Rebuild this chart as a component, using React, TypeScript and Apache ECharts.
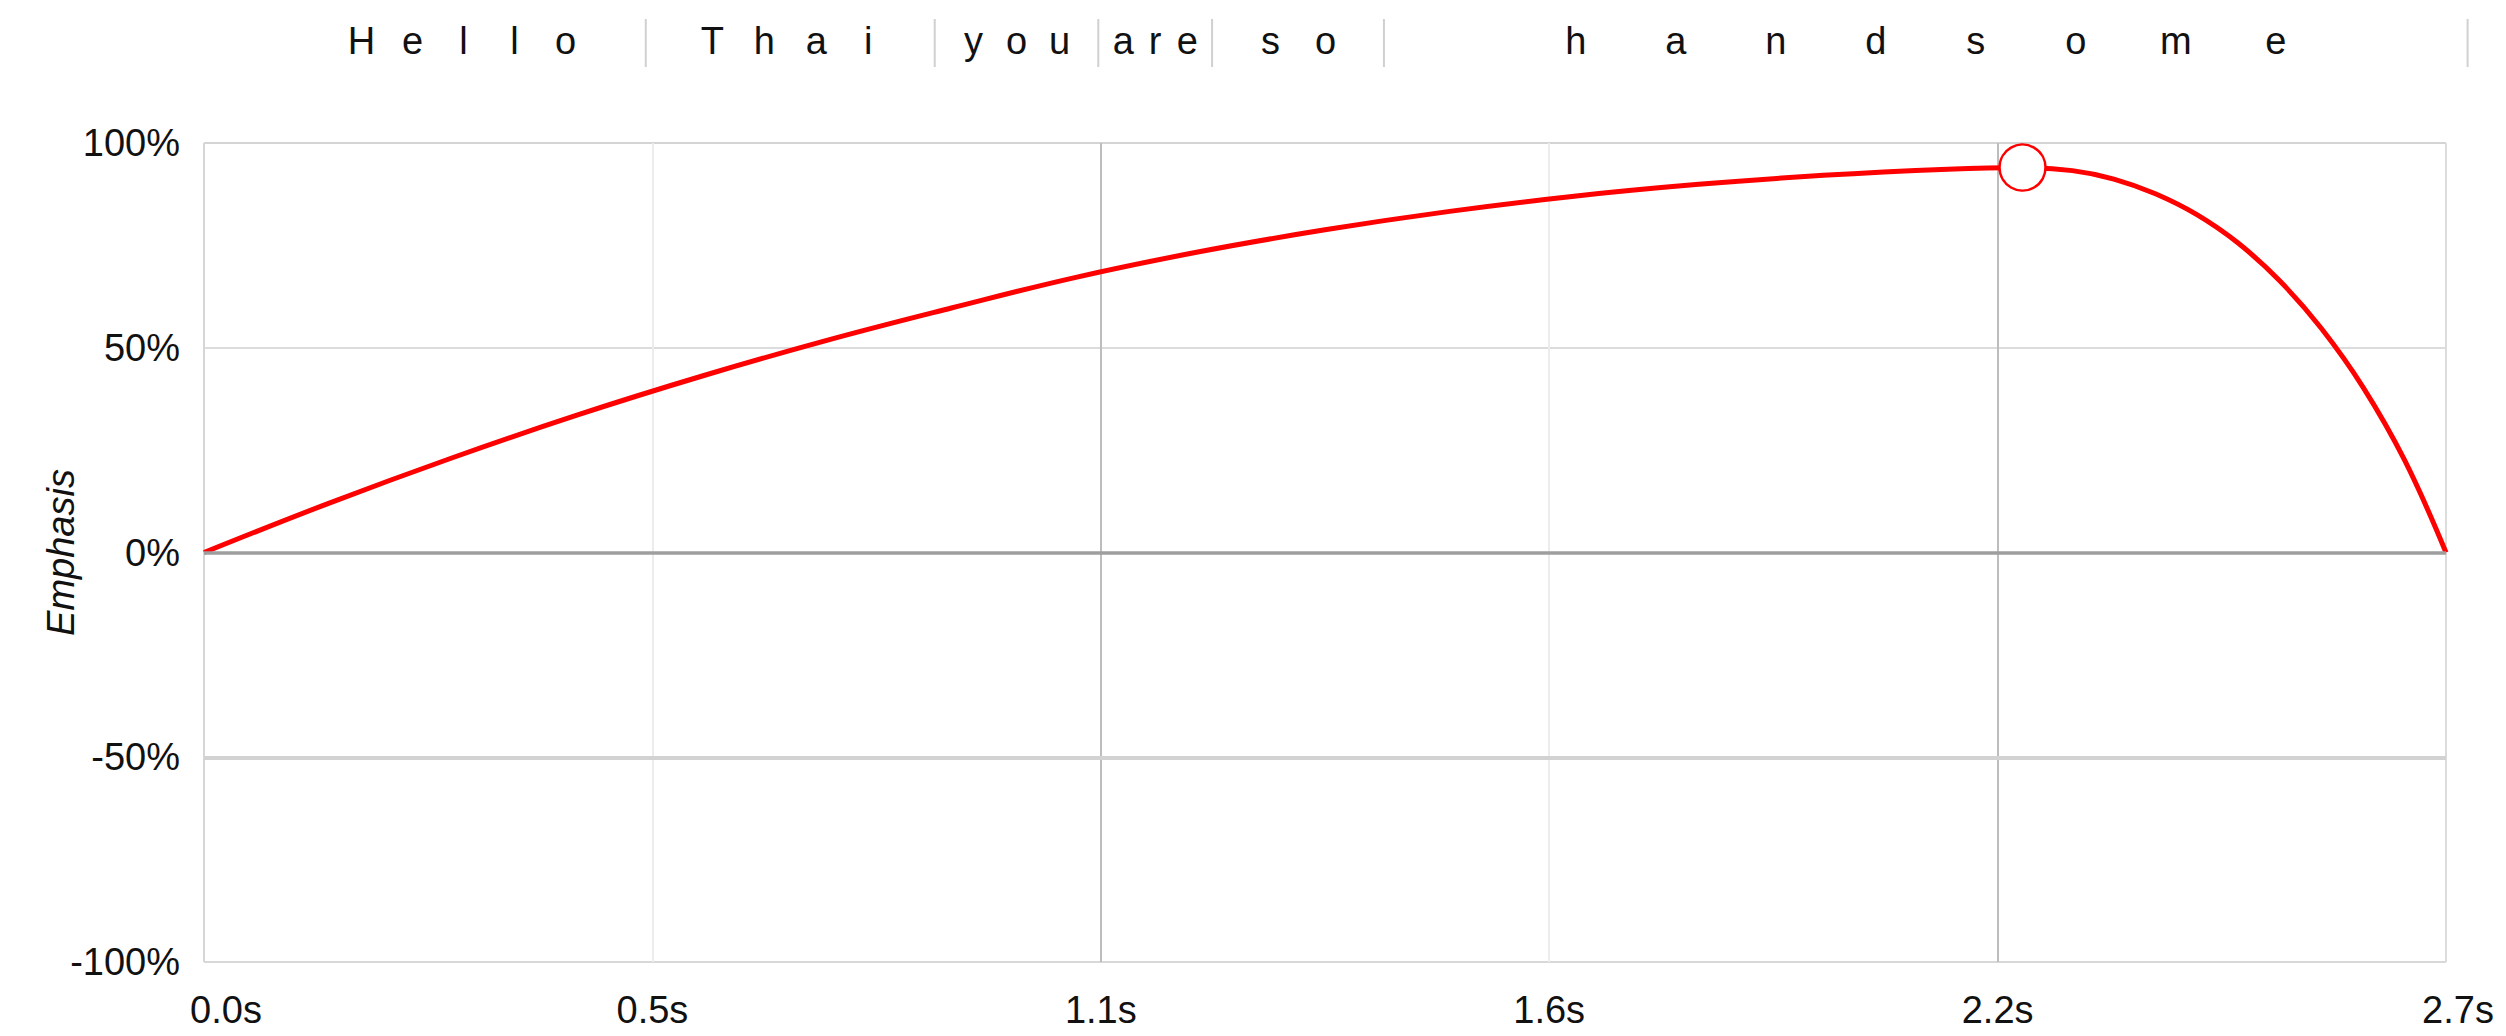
import React, { useEffect, useRef } from "react";
import * as echarts from "echarts";

// ---- data ----
const timeS = [0, 0.15, 0.3, 0.45, 0.6, 0.75, 0.9, 1.05, 1.2, 1.35, 1.5, 1.65, 1.8, 1.95, 2.1, 2.19, 2.25, 2.3, 2.35, 2.4, 2.45, 2.5, 2.55, 2.6, 2.65, 2.7];
const emphasisPct = [0, 12, 23.2, 33.6, 43.1, 51.8, 59.7, 67.2, 73.5, 78.8, 83.3, 87, 89.9, 92.1, 93.6, 94, 93.25, 91.2, 87.6, 82.5, 75.5, 66.3, 54.7, 40.4, 22.6, 0];
const peakPoint = [2.19, 94];
const words = ["Hello", "Thai", "you", "are", "so", "handsome"];
const wordBounds = [0.093, 0.532, 0.88, 1.077, 1.214, 1.421, 2.726];
const xMin = 0;
const xMax = 2.7;
const xInterval = 0.54;
const yMin = -100;
const yMax = 100;
const yInterval = 50;
const yAxisName = "Emphasis";

// ---- style ----
const FONT = "'Liberation Sans', Arial, Helvetica, sans-serif";
const LETTER_GAP = [51, 52, 43, 32, 55, 100];

export default function App() {
  const ref = useRef<HTMLDivElement>(null);
  useEffect(() => {
    if (!ref.current) return;
    const chart = echarts.init(ref.current, null, { renderer: "svg" });
    const data = timeS.map((t, i) => [t, emphasisPct[i]]);
    chart.setOption({
      animation: false,
      backgroundColor: "#fff",
      textStyle: { fontFamily: FONT },
      grid: { left: 204, right: 60, top: 143, bottom: 74, containLabel: false },
      xAxis: {
        type: "value",
        min: xMin,
        max: xMax,
        interval: xInterval,
        axisLine: { show: false },
        axisTick: { show: false },
        axisLabel: {
          margin: 29,
          fontSize: 38,
          color: "#111",
          fontFamily: FONT,
          formatter: (v: number) => {
            const s = v.toFixed(1) + "s";
            if (Math.abs(v - xMin) < 1e-9) return "{first|" + s + "}";
            if (Math.abs(v - xMax) < 1e-9) return "{last|" + s + "}";
            return s;
          },
          rich: {
            first: { fontSize: 38, color: "#111", fontFamily: FONT, padding: [0, 0, 0, 44] },
            last: { fontSize: 38, color: "#111", fontFamily: FONT, padding: [0, 0, 0, 24] },
          },
        },
        splitLine: {
          show: true,
          lineStyle: {
            width: 2,
            color: ["#d6d6d6", "#ececec", "#bdbdbd", "#ececec", "#bdbdbd", "#dcdcdc"],
          },
        },
      },
      yAxis: {
        type: "value",
        min: yMin,
        max: yMax,
        interval: yInterval,
        name: yAxisName,
        nameLocation: "middle",
        nameGap: 124,
        nameMoveOverlap: false,
        nameTextStyle: { fontSize: 38, fontStyle: "italic", color: "#111", fontFamily: FONT },
        axisLine: { show: false },
        axisTick: { show: false },
        axisLabel: { margin: 24, fontSize: 38, color: "#111", fontFamily: FONT, formatter: "{value}%" },
        splitLine: {
          show: true,
          lineStyle: { width: 2, color: ["#d8d8d8", "#d4d4d4", "#9e9e9e", "#dcdcdc", "#d4d4d4"] },
        },
      },
      series: [
        {
          type: "line",
          data: [[xMin, 0]],
          showSymbol: false,
          lineStyle: { opacity: 0 },
          z: 1,
          silent: true,
          markLine: {
            silent: true,
            symbol: "none",
            label: { show: false },
            data: [
              { yAxis: 0, lineStyle: { color: "#9e9e9e", width: 3.5, type: "solid" } },
              { yAxis: -50, lineStyle: { color: "#d2d2d2", width: 4, type: "solid" } },
            ],
          },
        },
        {
          type: "line",
          data,
          smooth: 0.4,
          showSymbol: false,
          lineStyle: { color: "#ff0000", width: 5 },
          z: 3,
        },
        {
          type: "scatter",
          data: [peakPoint],
          symbol: "circle",
          symbolSize: 46,
          itemStyle: { color: "#ffffff", borderColor: "#ff0000", borderWidth: 2.5, opacity: 1 },
          z: 4,
        },
      ],
    });

    const px = (t: number) => chart.convertToPixel({ xAxisIndex: 0 }, t) as number;
    const graphics: any[] = [];
    wordBounds.slice(1).forEach((t) => {
      const x = px(t);
      graphics.push({
        type: "line",
        shape: { x1: x, y1: 19, x2: x, y2: 67 },
        style: { stroke: "#d0d0d0", lineWidth: 2 },
      });
    });
    words.forEach((w, i) => {
      const c = px((wordBounds[i] + wordBounds[i + 1]) / 2);
      const gap = LETTER_GAP[i];
      const letters = Array.from(w);
      letters.forEach((ch, j) => {
        graphics.push({
          type: "text",
          x: c + (j - (letters.length - 1) / 2) * gap,
          y: 41,
          style: {
            text: ch,
            fontSize: 38,
            fontFamily: FONT,
            fill: "#111",
            align: "center",
            verticalAlign: "middle",
          },
        });
      });
    });
    chart.setOption({ graphic: graphics });

    return () => chart.dispose();
  }, []);
  return (
    <div
      ref={ref}
      style={{ position: "fixed", left: 0, top: 0, width: 2506, height: 1036, background: "#fff" }}
    />
  );
}
